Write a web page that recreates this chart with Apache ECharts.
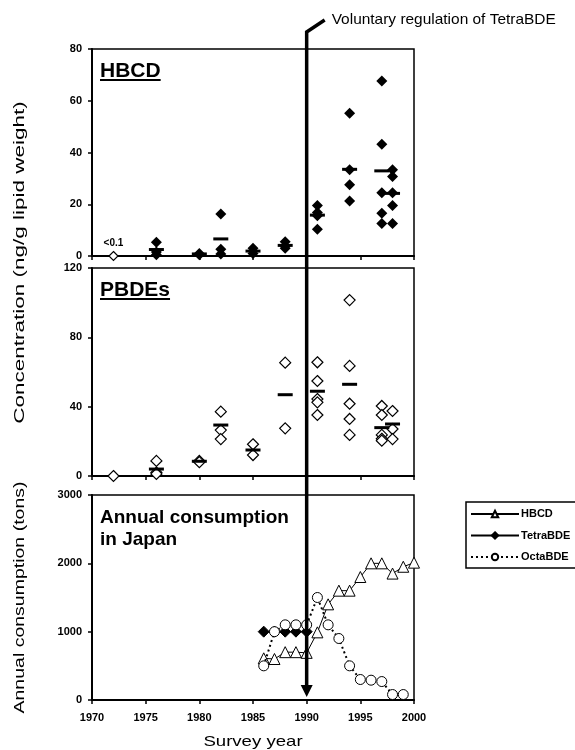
<!DOCTYPE html>
<html><head><meta charset="utf-8">
<script src="https://cdn.jsdelivr.net/npm/echarts@6/dist/echarts.min.js"></script>
<style>html,body{margin:0;padding:0;background:#fff}#c{width:575px;height:750px}</style>
</head><body><div id="c"></div>
<script>
const FONT = '"Liberation Sans", Arial, Helvetica, sans-serif';

// ---------------- data ----------------
const xMin = 1970, xMax = 2000, xStep = 5;

// Panel 1: HBCD survey concentrations (ng/g lipid weight)
const hbcdSurveyYears  = [1976, 1980, 1982, 1985, 1988, 1991, 1994, 1997, 1998];
const hbcdSurveyValues = [
  [5.3, 1.5, 0.5],
  [1.0, 0.5],
  [16.2, 2.6, 0.8],
  [3.0, 1.0],
  [5.5, 3.9, 3.0],
  [19.5, 16.8, 15.6, 10.3],
  [55.2, 33.3, 27.5, 21.3],
  [67.6, 43.2, 24.4, 16.5, 12.6],
  [33.3, 30.7, 24.4, 19.5, 12.6]
];
const hbcdSurveyMeans  = [2.5, 0.8, 6.6, 1.9, 4.1, 15.8, 33.5, 32.9, 24.2];
const hbcdBelowLimitYears  = [1972];
const hbcdBelowLimitValues = [0];
const hbcdBelowLimitLabel  = '<0.1';

// Panel 2: PBDEs survey concentrations
const pbdeSurveyYears  = [1972, 1976, 1980, 1982, 1985, 1988, 1991, 1994, 1997, 1998];
const pbdeSurveyValues = [
  [0],
  [8.7, 2.0, 1.2],
  [8.7, 8.0],
  [37.1, 26.5, 21.3],
  [18.3, 12.1],
  [65.4, 27.5],
  [65.6, 54.8, 44.4, 42.5, 35.2],
  [101.5, 63.5, 41.7, 32.9, 23.7],
  [40.4, 35.2, 23.7, 21.5, 20.4],
  [37.5, 27.1, 21.3]
];
const pbdeSurveyMeans  = [null, 4.0, 8.5, 29.4, 15.0, 46.9, 48.9, 52.9, 27.9, 30.0];

// Panel 3: annual consumption in Japan (tons)
const hbcdConsYears  = [1986, 1987, 1988, 1989, 1990, 1991, 1992, 1993, 1994, 1995, 1996, 1997, 1998, 1999, 2000, 2001];
const hbcdConsValues = [610, 600, 700, 700, 690, 990, 1400, 1600, 1600, 1800, 2000, 2000, 1850, 1950, 2010, 2200];
const tetraConsYears  = [1986, 1987, 1988, 1989, 1990];
const tetraConsValues = [1000, 1000, 1000, 1000, 1000];
const octaConsYears  = [1986, 1987, 1988, 1989, 1990, 1991, 1992, 1993, 1994, 1995, 1996, 1997, 1998, 1999];
const octaConsValues = [500, 1000, 1100, 1100, 1100, 1500, 1100, 900, 500, 300, 290, 270, 80, 80];

const regulationYear = 1990;
const regulationText = 'Voluntary regulation of TetraBDE';

// ---------------- helpers ----------------
function flatten(years, groups) {
  const out = [];
  years.forEach((y, i) => groups[i].forEach(v => out.push([y, v])));
  return out;
}
function pairs(years, vals) {
  const out = [];
  years.forEach((y, i) => { if (vals[i] !== null && vals[i] !== undefined) out.push([y, vals[i]]); });
  return out;
}

const chart = echarts.init(document.getElementById('c'), null, {renderer: 'canvas'});

const grids = [
  {left: 92, top: 49,  width: 322, height: 207},
  {left: 92, top: 268, width: 322, height: 208},
  {left: 92, top: 495, width: 322, height: 205}
].map(g => Object.assign({show: true, borderColor: '#000', borderWidth: 1.5, backgroundColor: 'transparent'}, g));

const axisLabelStyle = {color: '#000', fontFamily: FONT, fontWeight: 'bold', fontSize: 11, formatter: v => String(v)};

const xAxes = [0, 1, 2].map(i => ({
  type: 'value', gridIndex: i, min: xMin, max: xMax, interval: xStep,
  axisLine: {show: true, onZero: false, lineStyle: {color: '#000', width: 2}},
  axisTick: {show: true, inside: false, length: 4, lineStyle: {color: '#000', width: 1.5}},
  axisLabel: Object.assign({show: i === 2, margin: 12}, axisLabelStyle),
  splitLine: {show: false}
}));

const yRanges = [[0, 80, 20], [0, 120, 40], [0, 3000, 1000]];
const yAxes = yRanges.map((r, i) => ({
  type: 'value', gridIndex: i, min: r[0], max: r[1], interval: r[2],
  axisLine: {show: true, onZero: false, lineStyle: {color: '#000', width: 2}},
  axisTick: {show: true, inside: false, length: 4, lineStyle: {color: '#000', width: 1.5}},
  axisLabel: Object.assign({margin: 10}, axisLabelStyle),
  splitLine: {show: false}
}));

const filledDiamond = {symbol: 'diamond', symbolSize: 11, itemStyle: {color: '#000', opacity: 1}};
const openDiamond = {symbol: 'diamond', symbolSize: 11, itemStyle: {color: '#fff', borderColor: '#000', borderWidth: 1.2, opacity: 1}};
const meanBar = {symbol: 'rect', symbolSize: [15, 3], itemStyle: {color: '#000', opacity: 1}};

const hbcdConsData = hbcdConsYears.map((y, i) => {
  const d = {value: [y, hbcdConsValues[i]]};
  if (y > xMax) d.symbol = 'none';
  return d;
});

const series = [
  // panel 1
  Object.assign({type: 'scatter', name: 'HBCD survey', xAxisIndex: 0, yAxisIndex: 0, z: 3,
    data: flatten(hbcdSurveyYears, hbcdSurveyValues)}, filledDiamond),
  Object.assign({type: 'scatter', name: 'HBCD mean', xAxisIndex: 0, yAxisIndex: 0, z: 2,
    data: pairs(hbcdSurveyYears, hbcdSurveyMeans)}, meanBar),
  {type: 'scatter', name: 'HBCD <DL', xAxisIndex: 0, yAxisIndex: 0, z: 3,
    symbol: 'diamond', symbolSize: 9, itemStyle: openDiamond.itemStyle,
    label: {show: true, position: 'top', distance: 3, formatter: hbcdBelowLimitLabel,
      color: '#000', fontFamily: FONT, fontWeight: 'bold', fontSize: 10},
    data: pairs(hbcdBelowLimitYears, hbcdBelowLimitValues)},
  // panel 2
  Object.assign({type: 'scatter', name: 'PBDE survey', xAxisIndex: 1, yAxisIndex: 1, z: 3,
    data: flatten(pbdeSurveyYears, pbdeSurveyValues)}, openDiamond),
  Object.assign({type: 'scatter', name: 'PBDE mean', xAxisIndex: 1, yAxisIndex: 1, z: 4,
    data: pairs(pbdeSurveyYears, pbdeSurveyMeans)}, meanBar),
  // panel 3
  {type: 'line', name: 'HBCD', xAxisIndex: 2, yAxisIndex: 2, clip: false,
    symbol: 'triangle', symbolSize: 11, showAllSymbol: true,
    lineStyle: {color: '#000', width: 1},
    itemStyle: {color: '#fff', borderColor: '#000', borderWidth: 1},
    data: hbcdConsData, z: 3},
  {type: 'line', name: 'TetraBDE', xAxisIndex: 2, yAxisIndex: 2,
    symbol: 'diamond', symbolSize: 11, showAllSymbol: true,
    lineStyle: {color: '#000', width: 1.2},
    itemStyle: {color: '#000', borderColor: '#000', borderWidth: 1},
    data: pairs(tetraConsYears, tetraConsValues), z: 3},
  {type: 'line', name: 'OctaBDE', xAxisIndex: 2, yAxisIndex: 2,
    symbol: 'circle', symbolSize: 10, showAllSymbol: true,
    lineStyle: {color: '#000', width: 2, type: [2, 3]},
    itemStyle: {color: '#fff', borderColor: '#000', borderWidth: 1},
    data: pairs(octaConsYears, octaConsValues), z: 4}
];

chart.setOption({
  backgroundColor: '#fff',
  animation: false,
  grid: grids,
  xAxis: xAxes,
  yAxis: yAxes,
  legend: {
    data: ['HBCD', 'TetraBDE', 'OctaBDE'],
    orient: 'vertical', left: 466, top: 502,
    itemWidth: 48, itemHeight: 8, itemGap: 10.5,
    padding: [6.5, 20, 5.5, 4],
    borderColor: '#000', borderWidth: 1.5, backgroundColor: '#fff',
    selectedMode: false,
    textStyle: {color: '#000', fontFamily: FONT, fontWeight: 'bold', fontSize: 11, padding: [0, 0, 0, -3]}
  },
  series: series
});

// ---------- annotations ----------
function textWidth(str, font) {
  const c = document.createElement('canvas').getContext('2d');
  c.font = font;
  return c.measureText(str).width;
}
const xReg = chart.convertToPixel({xAxisIndex: 0}, regulationYear);
const yPanelTop = chart.convertToPixel({yAxisIndex: 0}, yRanges[0][1]);
const yMidBottom = chart.convertToPixel({yAxisIndex: 1}, 0);
const yBotTop = chart.convertToPixel({yAxisIndex: 2}, yRanges[2][1]);
const yBottom = chart.convertToPixel({yAxisIndex: 2}, 0);
const xLeft = chart.convertToPixel({xAxisIndex: 2}, xMin);
const xRight = chart.convertToPixel({xAxisIndex: 2}, xMax);

const titleFont = 'bold 21px "Liberation Sans"';
const g = [];
// panel titles
[['HBCD', 61], ['PBDEs', 280]].forEach(([t, y]) => {
  g.push({type: 'text', left: 100, top: y, style: {text: t, fill: '#000', font: titleFont}, z: 10});
  g.push({type: 'rect', shape: {x: 100, y: y + 18, width: textWidth(t, titleFont), height: 2}, style: {fill: '#000'}, z: 10});
});
g.push({type: 'text', left: 100, top: 507, style: {text: 'Annual consumption\nin Japan', fill: '#000',
  font: 'bold 19px "Liberation Sans"', lineHeight: 22}, z: 10});

// axis names
g.push({type: 'text', x: 20, y: (yPanelTop + yMidBottom) / 2, rotation: Math.PI / 2, scaleX: 1.5,
  style: {text: 'Concentration (ng/g lipid weight)', fill: '#000', font: '15px "Liberation Sans"', align: 'center', verticalAlign: 'middle'}});
g.push({type: 'text', x: 20, y: (yBotTop + yBottom) / 2, rotation: Math.PI / 2, scaleX: 1.3,
  style: {text: 'Annual consumption (tons)', fill: '#000', font: '15px "Liberation Sans"', align: 'center', verticalAlign: 'middle'}});
g.push({type: 'text', x: (xLeft + xRight) / 2, y: 742, scaleX: 1.24,
  style: {text: 'Survey year', fill: '#000', font: '15px "Liberation Sans"', align: 'center', verticalAlign: 'middle'}});

// regulation arrow
g.push({type: 'polyline', shape: {points: [[xReg, yBottom - 12], [xReg, yPanelTop - 17], [xReg + 18, yPanelTop - 29]]},
  style: {stroke: '#000', lineWidth: 3.5, fill: null, lineJoin: 'miter'}, z: 20});
g.push({type: 'polygon', shape: {points: [[xReg - 6, yBottom - 15], [xReg + 6, yBottom - 15], [xReg, yBottom - 3]]},
  style: {fill: '#000'}, z: 20});
g.push({type: 'text', x: xReg + 25, y: yPanelTop - 29, scaleX: 1.03,
  style: {text: regulationText, fill: '#000', font: '15px "Liberation Sans"', verticalAlign: 'middle'}, z: 20});

chart.setOption({graphic: g});
</script>
</body></html>
